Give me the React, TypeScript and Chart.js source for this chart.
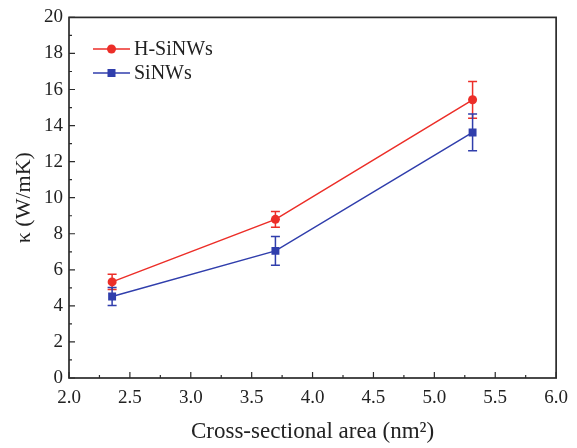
import React, { useEffect, useRef } from "react";
import { Chart, registerables } from "chart.js";

Chart.register(...registerables);

const areas = [2.354, 3.695, 5.314];
const hSiNWs = [5.33, 8.8, 15.43];
const hSiNWsErr = [0.42, 0.44, 1.02];
const siNWs = [4.52, 7.05, 13.62];
const siNWsErr = [0.5, 0.8, 1.02];
const xTicks = [2.0, 2.5, 3.0, 3.5, 4.0, 4.5, 5.0, 5.5, 6.0];
const yTicks = [0, 2, 4, 6, 8, 10, 12, 14, 16, 18, 20];
const seriesNames = ["H-SiNWs", "SiNWs"];

const RED = "rgb(236,46,40)";
const BLUE = "rgb(48,62,172)";
const AXIS = "#2b2b2b";
const SERIF = "'Times New Roman', 'Liberation Serif', serif";

const errs: Record<number, number[]> = { 0: hSiNWsErr, 1: siNWsErr };

const errorBarPlugin = {
  id: "errorBars",
  beforeDatasetsDraw(chart: any) {
    const ctx = chart.ctx;
    const ys = chart.scales.y;
    chart.data.datasets.forEach((ds: any, i: number) => {
      const meta = chart.getDatasetMeta(i);
      const e = errs[i];
      ctx.save();
      ctx.strokeStyle = ds.borderColor;
      ctx.lineWidth = 1.5;
      meta.data.forEach((pt: any, j: number) => {
        const v = ds.data[j].y;
        const top = ys.getPixelForValue(v + e[j]);
        const bot = ys.getPixelForValue(v - e[j]);
        const x = pt.x;
        ctx.beginPath();
        ctx.moveTo(x, top);
        ctx.lineTo(x, bot);
        ctx.moveTo(x - 4.5, top);
        ctx.lineTo(x + 4.5, top);
        ctx.moveTo(x - 4.5, bot);
        ctx.lineTo(x + 4.5, bot);
        ctx.stroke();
      });
      ctx.restore();
    });
  },
};

const framePlugin = {
  id: "frame",
  afterDraw(chart: any) {
    const ctx = chart.ctx;
    const { left, right, top, bottom } = chart.chartArea;
    const xs = chart.scales.x;
    const ys = chart.scales.y;
    ctx.save();
    ctx.strokeStyle = AXIS;
    ctx.lineWidth = 1.7;
    ctx.strokeRect(left, top, right - left, bottom - top);
    ctx.lineWidth = 1.2;
    ctx.beginPath();
    for (let i = 0; i < xTicks.length; i++) {
      const px = xs.getPixelForValue(xTicks[i]);
      ctx.moveTo(px, bottom);
      ctx.lineTo(px, bottom - 6);
      if (i < xTicks.length - 1) {
        const mx = xs.getPixelForValue((xTicks[i] + xTicks[i + 1]) / 2);
        ctx.moveTo(mx, bottom);
        ctx.lineTo(mx, bottom - 3);
      }
    }
    for (let i = 0; i < yTicks.length; i++) {
      const py = ys.getPixelForValue(yTicks[i]);
      ctx.moveTo(left, py);
      ctx.lineTo(left + 6, py);
      if (i < yTicks.length - 1) {
        const my = ys.getPixelForValue((yTicks[i] + yTicks[i + 1]) / 2);
        ctx.moveTo(left, my);
        ctx.lineTo(left + 3, my);
      }
    }
    ctx.stroke();

    // legend
    const colors = [RED, BLUE];
    const rows = [49, 73];
    ctx.font = `20px ${SERIF}`;
    ctx.textBaseline = "middle";
    seriesNames.forEach((name, i) => {
      const y = rows[i];
      ctx.strokeStyle = colors[i];
      ctx.fillStyle = colors[i];
      ctx.lineWidth = 1.5;
      ctx.beginPath();
      ctx.moveTo(93, y);
      ctx.lineTo(130, y);
      ctx.stroke();
      if (i === 0) {
        ctx.beginPath();
        ctx.arc(111.5, y, 4.5, 0, Math.PI * 2);
        ctx.fill();
      } else {
        ctx.fillRect(107.5, y - 4, 8, 8);
      }
      ctx.fillStyle = "#222";
      ctx.fillText(name, 134, y + 1);
    });
    ctx.restore();
  },
};

export default function App() {
  const ref = useRef<HTMLCanvasElement | null>(null);
  useEffect(() => {
    if (!ref.current) return;
    const chart = new Chart(ref.current, {
      type: "line",
      data: {
        datasets: [
          {
            label: seriesNames[0],
            data: areas.map((x, i) => ({ x, y: hSiNWs[i] })),
            borderColor: RED,
            backgroundColor: RED,
            borderWidth: 1.5,
            pointStyle: "circle",
            pointRadius: 4.5,
            pointBorderWidth: 0,
          },
          {
            label: seriesNames[1],
            data: areas.map((x, i) => ({ x, y: siNWs[i] })),
            borderColor: BLUE,
            backgroundColor: BLUE,
            borderWidth: 1.5,
            pointStyle: "rect",
            pointRadius: 5.6,
            pointBorderWidth: 0,
          },
        ],
      },
      options: {
        animation: false,
        responsive: false,
        maintainAspectRatio: false,
        layout: { padding: { top: 13, right: 14, left: 0, bottom: 0 } },
        plugins: { legend: { display: false }, tooltip: { enabled: false } },
        scales: {
          x: {
            type: "linear",
            min: 2,
            max: 6,
            afterFit: (s: any) => {
              s.height = 70;
            },
            afterBuildTicks: (s: any) => {
              s.ticks = xTicks.map((v) => ({ value: v }));
            },
            grid: { display: false, drawTicks: false },
            border: { display: false },
            ticks: {
              padding: 9,
              color: "#222",
              font: { family: SERIF, size: 19 },
              callback: (v: any) => Number(v).toFixed(1),
              maxRotation: 0,
            },
            title: {
              display: true,
              text: "Cross-sectional area (nm²)",
              color: "#222",
              font: { family: SERIF, size: 23 },
              padding: { top: 0, bottom: 2 },
            },
          },
          y: {
            type: "linear",
            min: 0,
            max: 20,
            afterFit: (s: any) => {
              s.width = 69;
            },
            afterBuildTicks: (s: any) => {
              s.ticks = yTicks.map((v) => ({ value: v }));
            },
            grid: { display: false, drawTicks: false },
            border: { display: false },
            ticks: {
              padding: 6,
              color: "#222",
              font: { family: SERIF, size: 19 },
            },
            title: {
              display: true,
              text: "κ (W/mK)",
              color: "#222",
              font: { family: SERIF, size: 22 },
              padding: { top: 11, bottom: 0 },
            },
          },
        },
      },
      plugins: [errorBarPlugin, framePlugin],
    });
    return () => chart.destroy();
  }, []);
  return (
    <div style={{ position: "fixed", left: 0, top: 0, width: 577, height: 448, background: "#fff" }}>
      <canvas ref={ref} width={577} height={448} style={{ width: 577, height: 448, display: "block" }} />
    </div>
  );
}
